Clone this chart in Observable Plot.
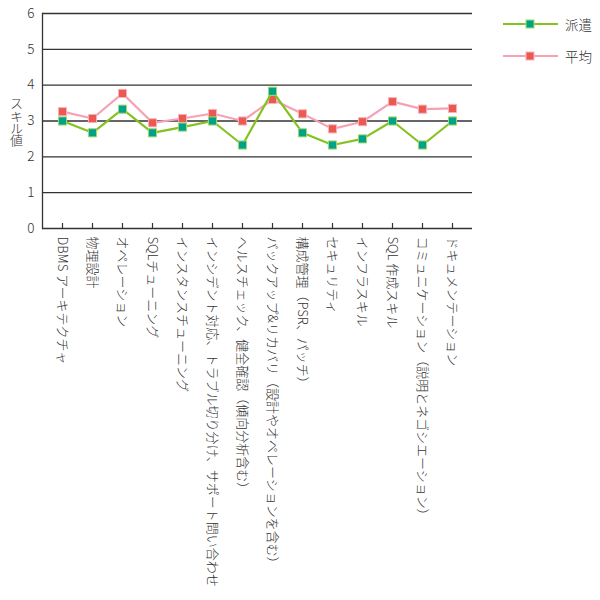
<!DOCTYPE html>
<html><head><meta charset="utf-8">
<script src="https://cdn.jsdelivr.net/npm/d3@7"></script>
<script src="https://cdn.jsdelivr.net/npm/@observablehq/plot@0.6"></script>
<style>
body{margin:0;background:#fff;font-family:"Noto Sans CJK JP",sans-serif;}
#wrap{position:relative;width:600px;height:600px;}
#chart svg text{font-weight:300;}
#ylabel{position:absolute;left:10px;top:97px;writing-mode:vertical-rl;text-orientation:upright;font-size:13px;color:#333;line-height:1;letter-spacing:-0.7px;font-weight:300;}
.leg{position:absolute;left:503px;height:16px;display:flex;align-items:center;font-size:13.5px;color:#333;font-weight:300;}
.leg svg{margin-right:6px;}
</style>
</head><body>
<div id="wrap"><div id="chart"></div><div id="ylabel">スキル値</div><div id="legend"></div></div>
<script>
const categories = [
  "DBMS アーキテクチャ",
  "物理設計",
  "オペレーション",
  "SQLチューニング",
  "インスタンスチューニング",
  "インシデント対応、トラブル切り分け、サポート問い合わせ",
  "ヘルスチェック、健全確認（傾向分析含む）",
  "バックアップ&リカバリ（設計やオペレーションを含む）",
  "構成管理（PSR、パッチ）",
  "セキュリティ",
  "インフラスキル",
  "SQL 作成スキル",
  "コミュニケーション（説明とネゴシエーション）",
  "ドキュメンテーション"
];
const haken = [3.0, 2.67, 3.33, 2.67, 2.83, 3.0, 2.33, 3.83, 2.67, 2.33, 2.5, 3.0, 2.33, 3.0];
const heikin = [3.26, 3.07, 3.77, 2.95, 3.07, 3.21, 3.0, 3.6, 3.2, 2.78, 2.98, 3.54, 3.33, 3.35];
const yTicks = [0, 1, 2, 3, 4, 5, 6];
const seriesNames = ["派遣", "平均"];
const lineColors = ["#84c21f", "#f5a3b4"];
const markerColors = ["#00a38a", "#ea5a50"];

const dHaken = categories.map((c, i) => ({c, v: haken[i]}));
const dAvg = categories.map((c, i) => ({c, v: heikin[i]}));

const chart = Plot.plot({
  width: 600, height: 600,
  marginLeft: 42, marginRight: 128, marginTop: 13, marginBottom: 372,
  style: {fontFamily: '"Noto Sans CJK JP", sans-serif', fontSize: "13px", color: "#333", background: "transparent"},
  x: {type: "point", domain: categories, padding: 0.5, label: null},
  y: {domain: [0, 6], label: null},
  marks: [
    Plot.ruleY(yTicks, {stroke: "#333", strokeWidth: 1.3}),
    Plot.frame({anchor: "left", stroke: "#333", strokeWidth: 1.3}),
    Plot.ruleX(categories, {x: d => d, y1: 0, y2: 0, insetTop: -5, stroke: "#333", strokeWidth: 1.2}),
    Plot.axisY({ticks: yTicks, tickFormat: d => String(d), tickSize: 0, tickPadding: 8, fontSize: 13.5, label: null}),
    Plot.axisX({tickSize: 0, tickPadding: 8, tickRotate: 90, fontSize: 13, label: null}),
    Plot.lineY(dAvg, {x: "c", y: "v", stroke: lineColors[1], strokeWidth: 2.2}),
    Plot.dot(dAvg, {x: "c", y: "v", symbol: "square", r: 4.6, fill: markerColors[1], stroke: "#f7b3be", strokeWidth: 1}),
    Plot.lineY(dHaken, {x: "c", y: "v", stroke: lineColors[0], strokeWidth: 2.2}),
    Plot.dot(dHaken, {x: "c", y: "v", symbol: "square", r: 4.6, fill: markerColors[0], stroke: "#a6d86a", strokeWidth: 1})
  ]
});
document.getElementById("chart").appendChild(chart);

const legend = document.getElementById("legend");
const tops = [16, 48];
seriesNames.forEach((name, i) => {
  const div = document.createElement("div");
  div.className = "leg";
  div.style.top = tops[i] + "px";
  div.innerHTML = `<svg width="56" height="16"><line x1="0" x2="55" y1="8" y2="8" stroke="${lineColors[i]}" stroke-width="2.2"/><rect x="23" y="4" width="8" height="8" fill="${markerColors[i]}" stroke="${i ? '#f7b3be' : '#a6d86a'}"/></svg><span>${name}</span>`;
  legend.appendChild(div);
});
</script>
</body></html>
